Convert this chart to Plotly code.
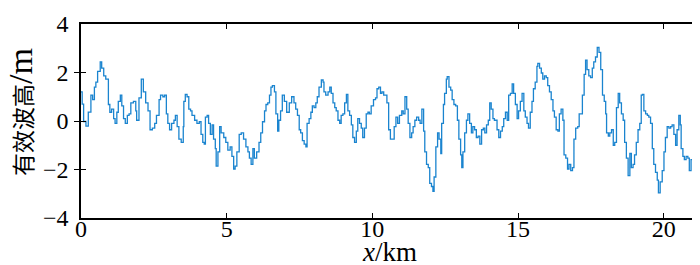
import plotly.graph_objects as go

# Distance along track (km) and significant wave height (m)
x_km = [0.00, 0.04, 0.09, 0.17, 0.25, 0.34, 0.40, 0.46, 0.51, 0.57, 0.66, 0.71, 0.78, 0.85, 0.94, 0.99,
        1.05, 1.12, 1.17, 1.23, 1.28, 1.35, 1.40, 1.46, 1.52, 1.59, 1.65, 1.71, 1.80, 1.88, 1.91, 1.99,
        2.07, 2.14, 2.22, 2.30, 2.37, 2.45, 2.53, 2.59, 2.68, 2.73, 2.81, 2.87, 2.93, 2.98, 3.04, 3.11,
        3.19, 3.24, 3.30, 3.36, 3.44, 3.51,
        3.53, 3.58, 3.64, 3.70, 3.76, 3.81, 3.90, 3.98, 4.06, 4.12, 4.18, 4.23, 4.27, 4.33, 4.38, 4.44,
        4.50, 4.55, 4.61, 4.64, 4.70, 4.76, 4.81, 4.90, 4.97, 5.04, 5.12, 5.18, 5.24, 5.29, 5.35, 5.43,
        5.50, 5.58, 5.66, 5.73, 5.78, 5.84, 5.90, 5.95, 6.03, 6.11, 6.17, 6.23, 6.30, 6.35, 6.41, 6.47,
        6.52, 6.57, 6.64, 6.69, 6.75, 6.79, 6.85, 6.91, 6.98, 7.06,
        7.15, 7.23, 7.31, 7.37, 7.43, 7.49, 7.54, 7.60, 7.66, 7.72, 7.76, 7.83, 7.89, 7.94, 8.00, 8.06,
        8.11, 8.17, 8.25, 8.31, 8.34, 8.40, 8.48, 8.54, 8.59, 8.65, 8.71, 8.76, 8.82, 8.88, 8.93, 8.99,
        9.05, 9.11, 9.16, 9.22, 9.28, 9.33, 9.39, 9.45, 9.50, 9.56, 9.62, 9.67, 9.73, 9.79, 9.85, 9.90,
        9.96, 10.04, 10.11, 10.16, 10.22, 10.28, 10.33, 10.39, 10.45, 10.50, 10.56, 10.62,
        10.70, 10.75, 10.81, 10.87, 10.93, 11.01, 11.06, 11.12, 11.18, 11.23, 11.29, 11.35, 11.40, 11.46,
        11.52, 11.59, 11.64, 11.70, 11.76, 11.80, 11.86, 11.92, 11.97, 12.03, 12.08, 12.12, 12.18, 12.24,
        12.29, 12.35, 12.38, 12.44, 12.48, 12.54, 12.57, 12.63, 12.69, 12.74, 12.80, 12.86, 12.92, 12.97,
        13.03, 13.07, 13.11, 13.17, 13.23, 13.28, 13.34, 13.40, 13.45, 13.51, 13.57, 13.63, 13.69, 13.75,
        13.81, 13.86, 13.92, 13.98, 14.03, 14.08, 14.14, 14.19,
        14.28, 14.34, 14.40, 14.46, 14.51, 14.57, 14.63, 14.68, 14.74, 14.80, 14.85, 14.91, 14.97, 15.02,
        15.08, 15.14, 15.20, 15.25, 15.31, 15.36, 15.42, 15.48, 15.53, 15.59, 15.65, 15.68, 15.74, 15.80,
        15.85, 15.91, 15.97, 16.02, 16.08, 16.14, 16.20, 16.25, 16.31, 16.37, 16.42, 16.48, 16.54, 16.58,
        16.64, 16.70, 16.75, 16.81, 16.87, 16.92, 16.98, 17.05, 17.10, 17.16, 17.21, 17.27, 17.32, 17.37,
        17.43, 17.49, 17.55, 17.60, 17.66, 17.72, 17.78, 17.84,
        17.90, 17.96, 18.01, 18.04, 18.10, 18.15, 18.21, 18.27, 18.32, 18.38, 18.44, 18.49, 18.55, 18.61,
        18.66, 18.72, 18.78, 18.84, 18.89, 18.95, 19.00, 19.06, 19.12, 19.18, 19.23, 19.27, 19.32, 19.38,
        19.44, 19.49, 19.55, 19.61, 19.66, 19.72, 19.78, 19.82, 19.88, 19.95, 20.01, 20.06, 20.12, 20.18,
        20.24, 20.29, 20.35, 20.41, 20.46, 20.52, 20.57, 20.60, 20.66, 20.71, 20.77, 20.83, 20.88, 20.94,
        21.00, 21.05, 21.11, 21.17, 21.23, 21.28, 21.32]

wave_height_m = [1.20, 0.70, -0.02, -0.21, 0.37, 1.07, 0.88, 1.40, 1.60, 2.05, 2.44, 2.18, 1.86, 1.73, 0.68, 0.36,
        0.49, 0.10, -0.10, 0.36, 0.81, 1.07, 0.62, 0.10, -0.10, 0.23, 0.29, 0.75, 0.81, 0.42, 0.03, 0.95,
        1.73, 1.20, 0.75, 0.42, -0.36, -0.29, -0.10, 0.23, 0.88, 1.07, 1.00, 1.07, 0.29, -0.10, -0.36, -0.10,
        0.03, 0.23, -0.23, -0.75, -0.88, -0.23,
        0.81, 1.10, 1.00, 0.49, 0.42, 0.23, 0.03, -0.10, -0.03, -0.55, -0.88, -0.95, 0.16, 0.23, -0.10, -0.55,
        -0.16, -0.75, -1.14, -1.86, -1.27, -0.23, -0.49, -0.68, -0.88, -1.20, -1.07, -1.46, -1.98, -1.86, -1.27, -0.55,
        -0.49, -0.75, -1.07, -1.27, -1.53, -1.79, -1.14, -1.53, -1.27, -0.88, -0.49, -0.03, 0.42, 0.68, 0.75, 1.07,
        1.40, 1.46, 1.20, 0.29, -0.42, 0.03, 0.42, 1.07, 0.81, 0.36,
        0.75, 1.00, 0.75, 0.49, 0.23, -0.36, -0.49, -0.81, -0.95, -1.07, -0.10, 0.10, 0.36, 0.62, 0.55, 0.75,
        1.00, 1.40, 1.69, 1.60, 1.20, 1.07, 1.20, 1.40, 1.14, 0.75, 0.55, 0.42, 0.03, -0.10, 0.23, 0.29,
        0.75, 1.10, 0.42, 0.23, -0.16, -0.68, -0.88, -0.42, 0.10, -0.10, -0.29, -0.68, -0.29, 0.29, 0.36, 0.29,
        0.62, 0.88, 0.95, 1.33, 1.40, 1.14, 1.20, 1.07, 1.07, 0.75, -0.36, -0.75,
        -0.75, -0.23, 0.16, -0.10, 0.23, 0.42, 0.29, 1.00, 0.49, -0.10, -0.68, -0.49, -0.23, 0.03,
        0.16, 0.03, -0.10, 0.49, -0.42, -1.27, -1.79, -1.92, -2.57, -2.70, -2.90, -2.31, -1.07, -0.49,
        -0.75, -1.34, -0.10, 0.68, 1.14, 1.73, 1.83, 1.40, 1.27, 0.88, 0.68, 0.62, 0.03, -0.75,
        -1.40, -1.92, -1.27, -0.49, 0.03, 0.29, -0.10, -0.49, -0.23, -0.36, -0.68, -0.62, -0.95, -0.36,
        -0.29, -0.49, -0.16, 0.03, 0.75, 0.49, 0.10, 0.03,
        -0.36, -0.68, -0.42, -0.23, 0.10, 0.36, 0.03, 1.07, 1.14, 1.53, 1.14, 0.68, 0.10, 0.42,
        0.81, 1.14, 0.42, 0.16, -0.10, -0.29, 0.36, 0.81, 1.33, 1.60, 2.25, 2.38, 2.18, 1.98,
        1.73, 1.86, 1.79, 1.46, 1.20, 0.88, 0.42, 0.16, -0.36, -0.42, 0.29, 0.49, 0.03, -1.40,
        -1.53, -1.98, -1.79, -2.05, -1.92, -0.75, -0.29, -0.23, 0.29, 0.29, 1.07, 1.92, 2.51, 2.12,
        1.86, 1.79, 2.18, 2.44, 2.64, 3.03, 2.83, 2.12,
        1.07, 0.81, 0.29, -0.49, -0.62, -0.49, -0.36, -1.00, -0.88, 0.55, 1.14, 0.75, 0.29, 0.03,
        -0.88, -1.53, -2.25, -1.34, -1.92, -1.79, -1.40, -0.88, -0.36, -0.10, 1.07, 1.10, 0.42, 0.29,
        0.23, 0.16, -0.10, -1.14, -1.79, -2.12, -2.44, -2.96, -2.51, -2.05, -1.27, -0.68, -0.23, -0.29,
        -0.23, -0.16, -0.55, -1.00, -0.36, 0.23, -0.16, -1.14, -1.46, -1.59, -1.46, -1.53, -2.05, -1.59,
        -1.07, -1.27, -1.53, -1.40, -1.34, -0.49, -1.20]

x_ticks = [0, 5, 10, 15, 20]
y_ticks = [-4, -2, 0, 2, 4]
y_tick_labels = ["\u22124\u00a0", "\u22122\u00a0", "0\u00a0", "2\u00a0", "4\u00a0"]
x_title = "<i>x</i>/km"
y_title = "有效波高<span style='font-size:34px'>/m</span>"

FONT = "Liberation Serif, Times New Roman, Noto Sans CJK SC, serif"

fig = go.Figure()
fig.add_trace(go.Scatter(
    x=x_km, y=wave_height_m, mode="lines",
    line=dict(color="#1a84cf", width=1.3, shape="hv"),
    hoverinfo="skip", showlegend=False,
))
# invisible companion trace so the label-only x axis (x2) is drawn
fig.add_trace(go.Scatter(
    x=x_km[:1], y=wave_height_m[:1], xaxis="x2", mode="markers",
    marker=dict(opacity=0), hoverinfo="skip", showlegend=False,
))

axis_common = dict(
    showline=True, linecolor="black", linewidth=1.5, mirror="allticks",
    ticks="inside", ticklen=5, tickwidth=1, tickcolor="black",
    showgrid=False, zeroline=False, ticklabeloverflow="allow",
    tickfont=dict(family=FONT, size=24, color="black"),
)

fig.update_layout(
    width=700, height=265,
    margin=dict(l=73, r=3, t=10, b=55),
    paper_bgcolor="white", plot_bgcolor="white",
    xaxis=dict(range=[0, 21.35], tickvals=x_ticks, showticklabels=False, **axis_common),
    # label-only axis, lifted a few pixels so the tick labels sit as close to the frame as in the reference
    xaxis2=dict(range=[0, 21.35], tickvals=x_ticks, overlaying="x", anchor="free", position=0.03,
                side="bottom", showline=False, ticks="", showgrid=False, zeroline=False,
                ticklabeloverflow="allow", tickfont=dict(family=FONT, size=24, color="black")),
    yaxis=dict(range=[-4, 4], tickvals=y_ticks, ticktext=y_tick_labels, **axis_common),
    annotations=[
        dict(text=x_title, xref="paper", yref="paper", x=0.5, y=0, xanchor="center", yanchor="middle",
             xshift=-3, yshift=-34, showarrow=False, font=dict(family=FONT, size=27, color="black")),
        dict(text=y_title, xref="paper", yref="paper", x=0, y=0.5, xanchor="center", yanchor="middle",
             xshift=-61, yshift=9, textangle=-90, showarrow=False, font=dict(family=FONT, size=23, color="black")),
    ],
)

fig.write_html("out.html")
